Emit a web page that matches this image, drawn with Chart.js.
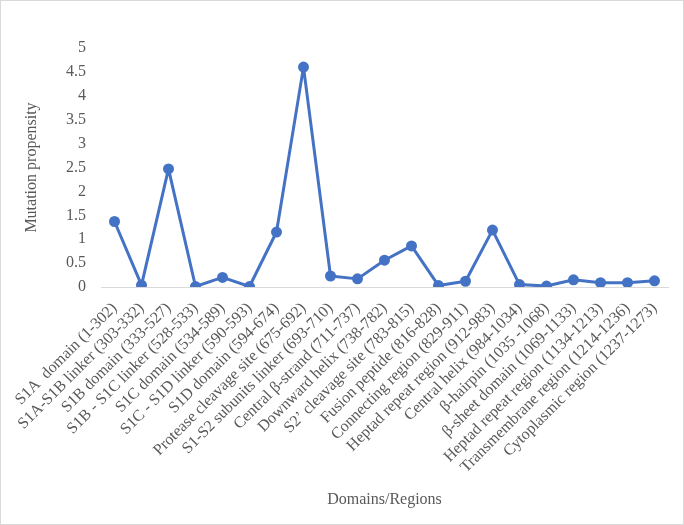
<!DOCTYPE html>
<html>
<head>
<meta charset="utf-8">
<script src="https://cdn.jsdelivr.net/npm/chart.js@4"></script>
<style>
  html, body { margin: 0; padding: 0; background: #fff; }
  #wrap { width: 684px; height: 525px; }
</style>
</head>
<body>
<div id="wrap"><canvas id="mutation-chart" width="684" height="525"></canvas></div>
<script>
// domains / regions on the x axis
const regions = [
  "S1A  domain (1-302)",
  "S1A-S1B linker (303-332)",
  "S1B domain (333-527)",
  "S1B - S1C linker (528-533)",
  "S1C domain (534-589)",
  "S1C - S1D linker (590-593)",
  "S1D domain (594-674)",
  "Protease cleavage site (675-692)",
  "S1-S2 subunits linker (693-710)",
  "Central \u03b2-strand (711-737)",
  "Downward helix (738-782)",
  "S2\u2019 cleavage site (783-815)",
  "Fusion peptide (816-828)",
  "Connecting region (829-911)",
  "Heptad repeat region (912-983)",
  "Central helix (984-1034)",
  "\u03b2-hairpin (1035 -1068)",
  "\u03b2-sheet domain (1069-1133)",
  "Heptad repeat region (1134-1213)",
  "Transmembrane region (1214-1236)",
  "Cytoplasmic region (1237-1273)"
]

// mutation propensity per region
const propensity = [1.37, 0.04, 2.47, 0.01, 0.2, 0.01, 1.15, 4.6, 0.23, 0.17, 0.56,
  0.86, 0.03, 0.12, 1.19, 0.05, 0.02, 0.15, 0.09, 0.09, 0.13]

const yTicks = [0, 0.5, 1, 1.5, 2, 2.5, 3, 3.5, 4, 4.5, 5]

const serif = "'Liberation Serif', 'Times New Roman', serif"
const textColor = "#595959"

// light frame round the chart area like the original
const framePlugin = {
  id: "frame",
  afterDraw(chart) {
    const ctx = chart.ctx
    ctx.save()
    ctx.strokeStyle = "#d9d9d9"
    ctx.lineWidth = 1
    ctx.strokeRect(0.5, 0.5, chart.width - 1, chart.height - 1)
    ctx.restore()
  }
}

new Chart(document.getElementById("mutation-chart"), {
  type: 'line',
  data: {
    labels: regions,
    datasets: [{
      data: propensity,
      borderColor: "#4472C4",
      backgroundColor: "#4472C4",
      borderWidth: 3,
      borderJoinStyle: 'round',
      pointRadius: 4,
      pointHoverRadius: 4,
      tension: 0,
      fill: false
    }]
  },
  options: {
    responsive: false,
    animation: false,
    layout: { padding: { left: 18, right: 16, top: 48, bottom: 12 } },
    plugins: {
      legend: { display: false },
      tooltip: { enabled: false }
    },
    scales: {
      x: {
        offset: true,
        grid: { display: false, drawTicks: false },
        border: { display: true, color: "#d9d9d9", width: 1 },
        ticks: {
          autoSkip: false,
          maxRotation: 45,
          minRotation: 45,
          padding: 12,
          color: textColor,
          font: { family: serif, size: 16 }
        },
        title: {
          display: true,
          text: "Domains/Regions",
          color: textColor,
          font: { family: serif, size: 16 },
          padding: { top: 4, bottom: 4 }
        },
        afterFit(scale) { scale.height = 226 }
      },
      y: {
        min: 0,
        max: 5,
        afterBuildTicks(scale) { scale.ticks = yTicks.map(v => ({ value: v })) },
        grid: { display: false, drawTicks: false },
        border: { display: false },
        ticks: {
          padding: 15,
          color: textColor,
          font: { family: serif, size: 16 },
          callback: v => String(v)
        },
        title: {
          display: true,
          text: "Mutation propensity",
          color: textColor,
          font: { family: serif, size: 16 },
          padding: { top: 4, bottom: 4 }
        },
        afterFit(scale) { scale.width = 83 }
      }
    }
  },
  plugins: [framePlugin]
});
</script>
</body>
</html>
